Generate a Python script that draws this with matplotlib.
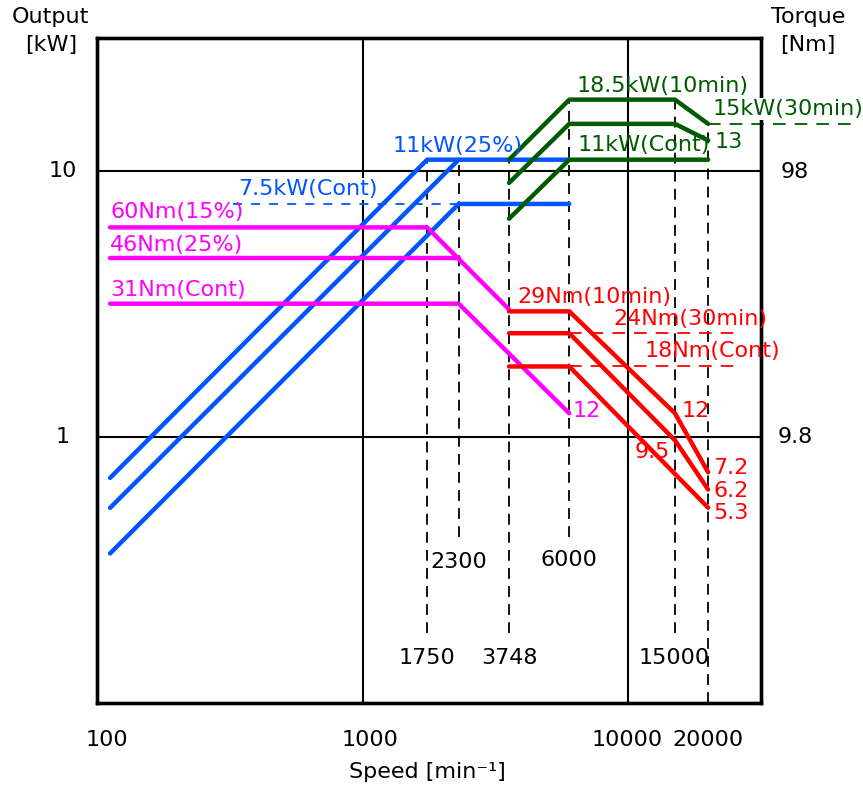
import matplotlib
matplotlib.use("Agg")
import matplotlib.pyplot as plt

# Output curves [kW] vs speed [min^-1]
blue_60_speed = [112, 1750, 6000]
blue_60_kw = [0.70, 11, 11]
blue_46_speed = [112, 2300]
blue_46_kw = [0.54, 11]
blue_31_speed = [112, 2300, 6000]
blue_31_kw = [0.364, 7.5, 7.5]
blue_dash_speed = [325, 2300]
blue_dash_kw = [7.5, 7.5]

green_top_speed = [3560, 6000, 15000, 20000]
green_top_kw = [11.0, 18.5, 18.5, 15]
green_mid_speed = [3560, 6000, 15000, 20000]
green_mid_kw = [9.0, 15, 15, 13]
green_bot_speed = [3560, 6000, 20000]
green_bot_kw = [6.6, 11, 11]
green_dash_speed = [20000, 72000]
green_dash_kw = [15, 15]

# Torque curves [Nm]
mag_60_speed = [112, 1750, 3560]
mag_60_nm = [60, 60, 29.5]
mag_46_speed = [112, 2300]
mag_46_nm = [46, 46]
mag_31_speed = [112, 2300, 6000]
mag_31_nm = [31, 31, 12]

red_top_speed = [3560, 6000, 15000, 20000]
red_top_nm = [29, 29, 12, 7.2]
red_mid_speed = [3560, 6000, 15000, 20000]
red_mid_nm = [24, 24, 9.5, 6.2]
red_bot_speed = [3560, 6000, 20000]
red_bot_nm = [18, 18, 5.3]
red_dash_speed = [6000, 25000]
red_dash24_nm = [24, 24]
red_dash18_nm = [18, 18]

# vertical dashed speed markers
vline_speeds = [1750, 2300, 3560, 6000, 15000, 20000]
vline_top_kw = [11, 11, 11, 18.5, 18.5, 15]
vline_bottom_kw = [0.183, 0.42, 0.183, 0.42, 0.183, 0.1]

BLUE = "#0055ff"
MAG = "#ff00ff"
GREEN = "#005a00"
RED = "#ff0000"
LW = 3.2
FS = 16

W, H = 863, 787
fig = plt.figure(figsize=(W / 100, H / 100), dpi=100)
plt.rcParams['font.family'] = ['DejaVu Sans']
ax = fig.add_axes([97 / W, 1 - 702.7 / H, 664 / W, 665 / H])
ax.set_xscale('log')
ax.set_yscale('log')
ax.set_xlim(100, 10 ** 4.5)
ax.set_ylim(0.1, 10 ** 1.5)

# torque scale on the right: 98 Nm sits on 10 kW
ax2 = ax.twinx()
ax2.set_yscale('log')

for a in (ax, ax2):
    a.tick_params(which='both', left=False, right=False, bottom=False, top=False,
                  labelleft=False, labelright=False, labelbottom=False)
    a.minorticks_off()
    for s in a.spines.values():
        s.set_linewidth(2.4)
ax2.set_ylim(0.98, 9.8 * 10 ** 1.5)

# grid
for xv in [1000, 10000]:
    ax.axvline(xv, color='black', lw=1.5, zorder=1)
for yv in [1, 10]:
    ax.axhline(yv, color='black', lw=1.5, zorder=1)

# dashed speed markers
for sp, top, bot in zip(vline_speeds, vline_top_kw, vline_bottom_kw):
    ax.plot([sp, sp], [bot, top], color='black', lw=1.3, ls=(0, (6, 4)), zorder=2)

# output curves
for xs, ys, c in [(blue_60_speed, blue_60_kw, BLUE), (blue_46_speed, blue_46_kw, BLUE),
                  (blue_31_speed, blue_31_kw, BLUE),
                  (green_top_speed, green_top_kw, GREEN), (green_mid_speed, green_mid_kw, GREEN),
                  (green_bot_speed, green_bot_kw, GREEN)]:
    ax.plot(xs, ys, color=c, lw=LW, solid_capstyle='round', solid_joinstyle='round', zorder=3)
ax.plot(blue_dash_speed, blue_dash_kw, color=BLUE, lw=1.3, ls=(0, (5, 5)), zorder=3)
ax.plot(green_dash_speed, green_dash_kw, color=GREEN, lw=1.3, ls=(0, (7, 5)), zorder=3,
        clip_on=False)

# torque curves
for xs, ys, c in [(mag_60_speed, mag_60_nm, MAG), (mag_46_speed, mag_46_nm, MAG),
                  (mag_31_speed, mag_31_nm, MAG),
                  (red_top_speed, red_top_nm, RED), (red_mid_speed, red_mid_nm, RED),
                  (red_bot_speed, red_bot_nm, RED)]:
    ax2.plot(xs, ys, color=c, lw=LW, solid_capstyle='round', solid_joinstyle='round', zorder=3)
ax2.plot(red_dash_speed, red_dash24_nm, color=RED, lw=1.3, ls=(0, (7, 5)), zorder=3)
ax2.plot(red_dash_speed, red_dash18_nm, color=RED, lw=1.3, ls=(0, (7, 5)), zorder=3)


def label(x, y, s, color='black', ha='left', bg=False, **kw):
    # x, y in picture pixels
    t = fig.text(x / W, 1 - y / H, s, color=color, ha=ha, va='center', fontsize=FS, **kw)
    if bg:
        t.set_bbox(dict(facecolor='white', edgecolor='none', pad=0.5))
    return t


# axis texts
label(50, 17, "Output", ha='center')
label(51, 45, "[kW]", ha='center')
label(808, 17, "Torque", ha='center')
label(808, 45, "[Nm]", ha='center')
label(427, 772, "Speed [min⁻¹]", ha='center')
for x, s in [(107, "100"), (370, "1000"), (627, "10000"), (708, "20000")]:
    label(x, 740, s, ha='center')
label(63, 171, "10", ha='center')
label(63, 437, "1", ha='center')
label(795, 172, "98", ha='center')
label(795, 437, "9.8", ha='center')

# speed marker labels
label(459, 562, "2300", ha='center')
label(569, 560, "6000", ha='center')
label(427, 658, "1750", ha='center')
label(509, 658, "3748", ha='center')
label(674, 658, "15000", ha='center')

# curve labels
label(393, 146, "11kW(25%)", color=BLUE)
label(238, 189, "7.5kW(Cont)", color=BLUE, bg=True)
label(110, 212, "60Nm(15%)", color=MAG)
label(110, 245, "46Nm(25%)", color=MAG)
label(110, 290, "31Nm(Cont)", color=MAG)
label(573, 411, "12", color=MAG)
label(517, 297, "29Nm(10min)", color=RED)
label(613, 319, "24Nm(30min)", color=RED)
label(645, 351, "18Nm(Cont)", color=RED)
label(682, 411, "12", color=RED)
label(635, 452, "9.5", color=RED)
label(713, 468, "7.2", color=RED)
label(713, 491, "6.2", color=RED)
label(713, 513, "5.3", color=RED)
label(577, 86, "18.5kW(10min)", color=GREEN)
label(713, 109, "15kW(30min)", color=GREEN, bg=True)
label(715, 142, "13", color=GREEN)
label(578, 145, "11kW(Cont)", color=GREEN)

fig.savefig("out.png", dpi=100)
